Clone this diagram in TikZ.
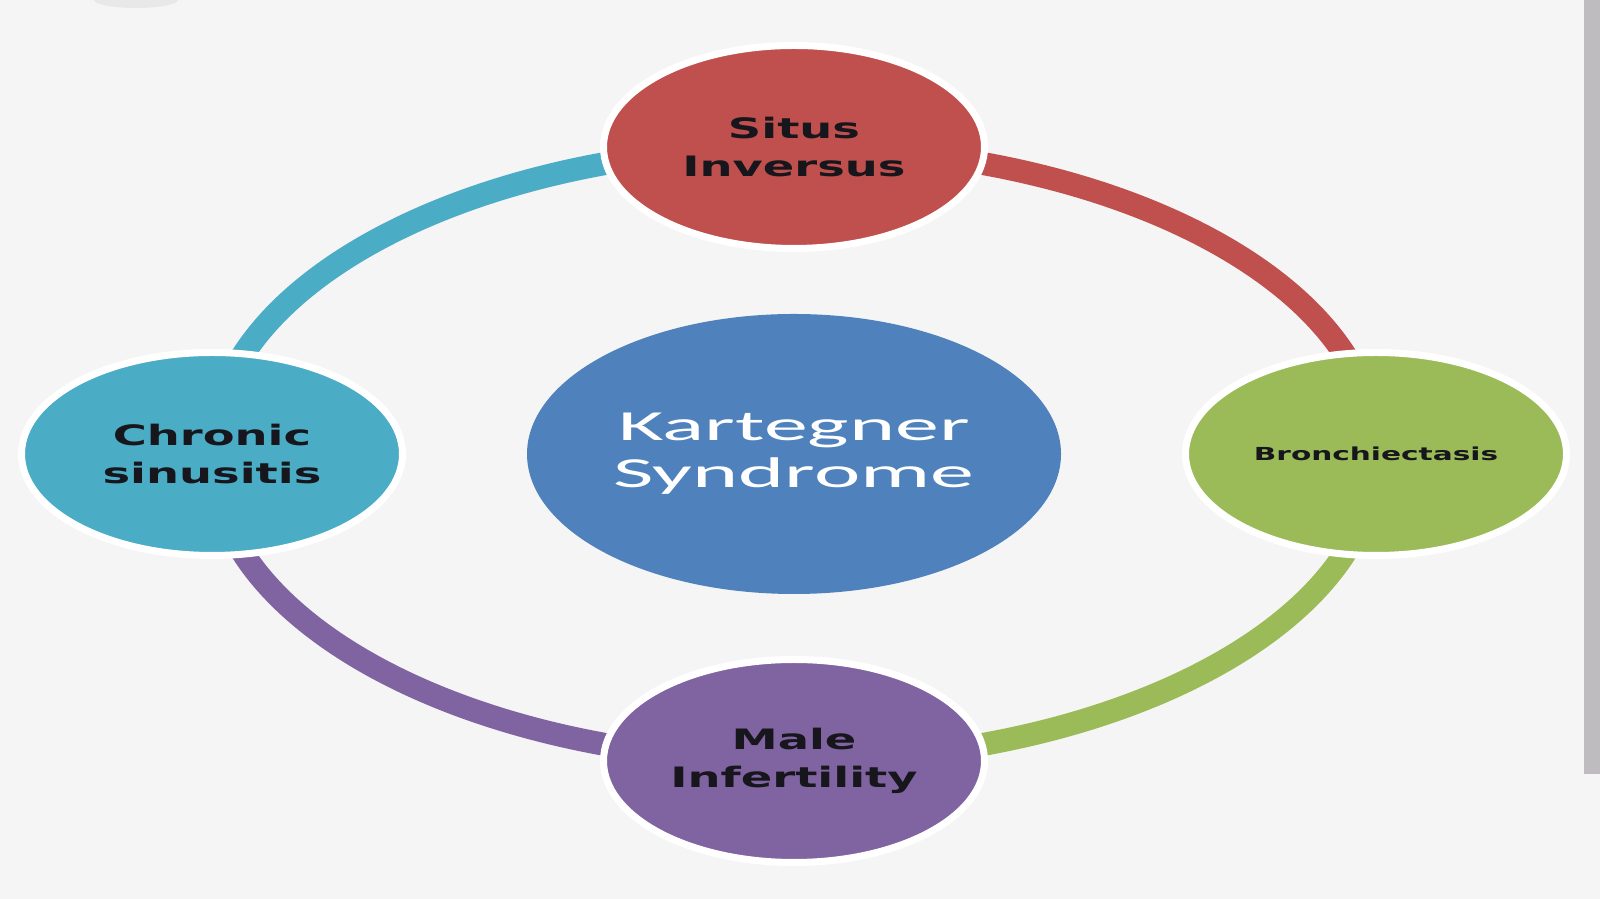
\documentclass[tikz,border=0pt]{standalone}
\usepackage{fontspec}
\usepackage{tikz}
\usetikzlibrary{shapes.geometric}

\newfontfamily\lblfont[FakeStretch=1.65]{DejaVu Sans}
\newfontfamily\ctrfont[FakeStretch=2.05]{Carlito}

\definecolor{bgcol}{HTML}{F5F5F5}
\definecolor{barcol}{HTML}{BEBCBE}
\definecolor{sitred}{HTML}{C0504D}
\definecolor{bronchgreen}{HTML}{9BBB59}
\definecolor{malepurple}{HTML}{8064A2}
\definecolor{sinusteal}{HTML}{4BACC6}
\definecolor{kartblue}{HTML}{4F81BD}
\definecolor{lbldark}{HTML}{16161C}

\begin{document}
\begin{tikzpicture}[line cap=butt]
      \tikzstyle{bubble}=[ellipse,draw=white,line width=0.07cm,inner sep=0pt,
                          minimum width=3.81cm,minimum height=2.03cm,
                          align=center,text=lbldark,
                          font=\lblfont\bfseries\fontsize{8}{10.8}\selectfont]
      \tikzstyle{ring}=[line width=0.23cm]

      % background and frame
      \fill[bgcol] (0,0) rectangle (16,-8.99);
      \useasboundingbox (0,0) rectangle (16,-8.99);
      \fill[barcol] (15.84,0) rectangle (16,-7.74);
      \fill[gray!18] (1.36,0) ellipse [x radius=0.42cm, y radius=0.08cm];

      % middle
      \node[ellipse,fill=kartblue,inner sep=0pt,minimum width=5.34cm,
            minimum height=2.80cm,align=center,text=white,
            font=\ctrfont\fontsize{12.2}{13.4}\selectfont]
            (K) at (7.94,-4.54) {Kartegner\\Syndrome};

      % outer ring
      \path (K.center) ++(0,3.07)  coordinate (S0)
            (K.center) ++(0,-3.07) coordinate (M0)
            (K.center) ++(5.82,0)  coordinate (B0)
            (K.center) ++(-5.82,0) coordinate (C0);

      \draw[ring,sinusteal]   (C0) arc[start angle=180, end angle=90,  x radius=5.82cm, y radius=3.07cm];
      \draw[ring,sitred]      (S0) arc[start angle=90,  end angle=0,   x radius=5.82cm, y radius=3.07cm];
      \draw[ring,bronchgreen] (B0) arc[start angle=0,   end angle=-90, x radius=5.82cm, y radius=3.07cm];
      \draw[ring,malepurple]  (M0) arc[start angle=270, end angle=180, x radius=5.82cm, y radius=3.07cm];

      \node[bubble,fill=sitred]      (S) at (S0) {Situs\\Inversus};
      \node[bubble,fill=bronchgreen] (B) at (B0)
            {\fontsize{5.1}{6}\selectfont Bronchiectasis};
      \node[bubble,fill=malepurple]  (M) at (M0) {Male\\Infertility};
      \node[bubble,fill=sinusteal]   (C) at (C0) {Chronic\\sinusitis};

\end{tikzpicture}
\end{document}
